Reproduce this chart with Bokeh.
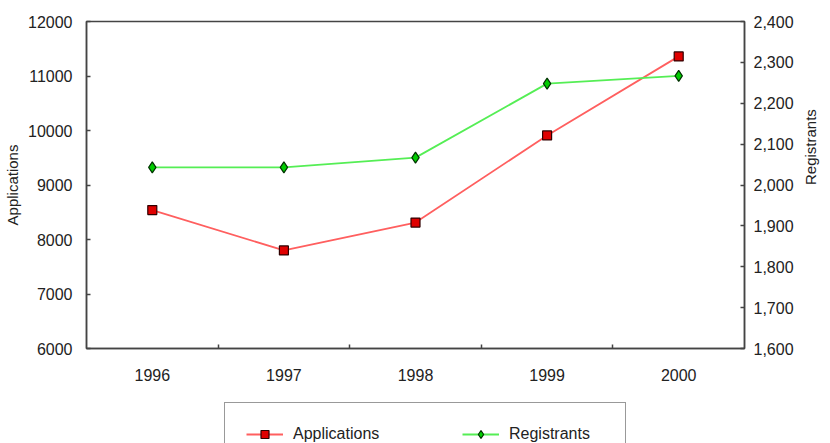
import math
from bokeh.plotting import figure
from bokeh.layouts import column
from bokeh.models import (Range1d, LinearAxis, FixedTicker, NumeralTickFormatter,
                          Legend, LegendItem)
from bokeh.embed import file_html
from bokeh.resources import INLINE

years = [1996, 1997, 1998, 1999, 2000]
applications = [8540, 7800, 8310, 9910, 11360]
registrants = [2043, 2043, 2067, 2248, 2267]
app_ticks = [6000, 7000, 8000, 9000, 10000, 11000, 12000]
reg_ticks = [1600, 1700, 1800, 1900, 2000, 2100, 2200, 2300, 2400]
series_names = ["Applications", "Registrants"]

FONT = "Liberation Sans"
TXT = "#222222"
AX = "#444444"
RED_LINE, RED_FILL, RED_EDGE = "#ff5f5f", "#e00000", "#300000"
GRN_LINE, GRN_FILL, GRN_EDGE = "#55ee55", "#00cc00", "#003300"

p = figure(width=830, height=401, output_backend="svg", toolbar_location=None,
           x_range=Range1d(years[0] - 0.5, years[-1] + 0.5),
           y_range=Range1d(app_ticks[0], app_ticks[-1]),
           min_border_left=86, min_border_right=81, min_border_top=21,
           min_border_bottom=53)
p.extra_y_ranges = {"reg": Range1d(reg_ticks[0], reg_ticks[-1])}
p.grid.visible = False
p.outline_line_color = AX
p.outline_line_width = 1.5
p.background_fill_color = "white"
p.border_fill_color = "white"

# x axis
xa = p.xaxis[0]
xa.ticker = FixedTicker(ticks=years, minor_ticks=[y + 0.5 for y in years[:-1]])
xa.major_label_overrides = {y: str(y) for y in years}
xa.major_tick_in = 0
xa.major_tick_out = 0
xa.minor_tick_in = 4
xa.minor_tick_out = 0
xa.major_label_standoff = 20

# left axis
ya = p.yaxis[0]
ya.ticker = FixedTicker(ticks=app_ticks)
ya.axis_label = series_names[0]
ya.major_tick_in = 4
ya.major_tick_out = 0
ya.major_label_standoff = 14
ya.axis_label_standoff = 4

# right axis
ra = LinearAxis(y_range_name="reg", ticker=FixedTicker(ticks=reg_ticks),
                formatter=NumeralTickFormatter(format="0,0"),
                axis_label=series_names[1])
ra.major_tick_in = 4
ra.major_tick_out = 0
ra.major_label_standoff = 9
ra.axis_label_standoff = 14
ra.axis_label_orientation = math.pi / 2
p.add_layout(ra, "right")

for ax in [xa, ya, ra]:
    ax.axis_line_color = AX
    ax.axis_line_width = 1.5
    ax.major_tick_line_color = AX
    ax.minor_tick_line_color = AX
    ax.major_tick_line_width = 1.5
    ax.minor_tick_line_width = 1.5
    ax.major_label_text_font = FONT
    ax.major_label_text_font_size = "16px"
    ax.major_label_text_color = TXT
    ax.axis_label_text_font = FONT
    ax.axis_label_text_font_size = "15px"
    ax.axis_label_text_font_style = "normal"
    ax.axis_label_text_color = TXT


def draw_series(fig, ys, line_color, fill, edge, marker, size, **kw):
    ln = fig.line(years, ys, line_color=line_color, line_width=1.8, **kw)
    sc = fig.scatter(years, ys, marker=marker, size=size, fill_color=fill,
                     line_color=edge, line_width=1.2, **kw)
    return ln, sc


draw_series(p, applications, RED_LINE, RED_FILL, RED_EDGE, "square", 9)
draw_series(p, registrants, GRN_LINE, GRN_FILL, GRN_EDGE, "diamond", 11,
            y_range_name="reg")

# legend strip (cut off at the bottom, as in the reference); the series are
# drawn here out of view only to supply the legend samples
q = figure(width=830, height=42, output_backend="svg", toolbar_location=None,
           x_range=Range1d(0, 1), y_range=Range1d(0, 1),
           x_axis_location=None, y_axis_location=None, min_border=0)
q.grid.visible = False
q.outline_line_color = None
q.background_fill_color = "white"
q.border_fill_color = "white"
lq1, sq1 = draw_series(q, applications, RED_LINE, RED_FILL, RED_EDGE, "square", 9)
lq2, sq2 = draw_series(q, registrants, GRN_LINE, GRN_FILL, GRN_EDGE, "diamond", 11)

legend = Legend(items=[LegendItem(label=series_names[0], renderers=[lq1, sq1]),
                       LegendItem(label=series_names[1], renderers=[lq2, sq2])],
                orientation="horizontal", location=(138, -23), margin=0,
                padding=21, spacing=74, glyph_width=37, glyph_height=20,
                label_height=20, label_width=95, label_standoff=10,
                label_text_font=FONT, label_text_font_size="16px",
                label_text_color=TXT,
                border_line_color="#333333", border_line_width=1.5,
                background_fill_color="white", background_fill_alpha=1.0)
q.add_layout(legend, "center")

open("out.html", "w").write(file_html(column(p, q, spacing=0), INLINE))
